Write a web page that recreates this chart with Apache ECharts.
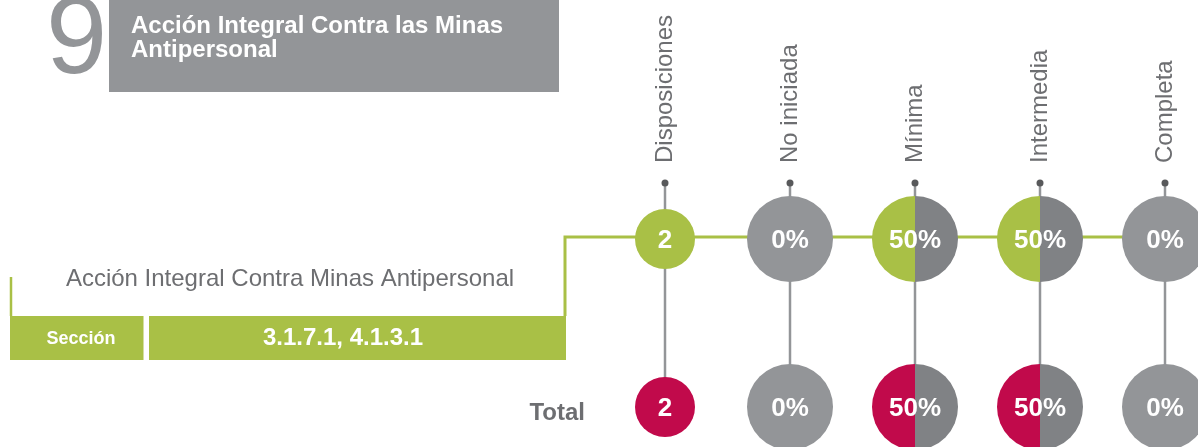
<!DOCTYPE html>
<html>
<head>
<meta charset="utf-8">
<title>Acción Integral Contra las Minas Antipersonal</title>
<script src="https://cdn.jsdelivr.net/npm/echarts@6/dist/echarts.min.js"></script>
<style>
    html, body { margin: 0; padding: 0; background: #fff; }
    #chartContainer { width: 1198px; height: 447px; }
</style>
</head>
<body>
<div id="chartContainer"></div>
<script>
/**
 * Ficha 9 - nivel de cumplimiento por disposición
 */

// datos
var categorias = ['Disposiciones', 'No iniciada', 'Mínima', 'Intermedia', 'Completa'];
var filas = ['Total', ''];            // fila 0 = Total, fila 1 = sección
var disposicionesSeccion = 2;
var disposicionesTotal = 2;
var avanceSeccion = [0, 50, 50, 0];   // % No iniciada, Mínima, Intermedia, Completa
var avanceTotal = [0, 50, 50, 0];

// textos
var fichaNumero = '9';
var fichaTitulo = 'Acción Integral Contra las Minas\nAntipersonal';
var temaTexto = 'Acción Integral Contra Minas Antipersonal';
var seccionEtiqueta = 'Sección';
var seccionValor = '3.1.7.1, 4.1.3.1';

var verde = '#a9c046';
var rojo = '#c10a4b';
var grisClaro = '#939598';
var grisOscuro = '#808285';
var grisTexto = '#6d6e71';
var fuente = '"Liberation Sans", Arial, sans-serif';

var myChart = echarts.init(document.getElementById("chartContainer"));

// cada circulo: categoria, fila, porcentaje pintado y texto
var circulos = [];
function armarFila(fila, disp, avance, color) {
    circulos.push({x: 0, y: fila, pct: 100, texto: String(disp), color: color, chico: true});
    for (var i = 0; i < avance.length; i++) {
        circulos.push({x: i + 1, y: fila, pct: avance[i], texto: avance[i] + '%', color: color, chico: false});
    }
}
armarFila(1, disposicionesSeccion, avanceSeccion, verde);
armarFila(0, disposicionesTotal, avanceTotal, rojo);

function dibujarCirculo(params, api) {
    var c = circulos[params.dataIndex];
    var p = api.coord([api.value(0), api.value(1)]);
    var r = c.chico ? 30 : 43;
    var hijos = [];
    if (c.pct >= 100) {
        hijos.push({type: 'circle', shape: {cx: p[0], cy: p[1], r: r}, style: {fill: c.color}});
    } else if (c.pct <= 0) {
        hijos.push({type: 'circle', shape: {cx: p[0], cy: p[1], r: r}, style: {fill: grisClaro}});
    } else {
        var corte = Math.PI / 2 + c.pct / 100 * Math.PI * 2;
        hijos.push({type: 'sector', shape: {cx: p[0], cy: p[1], r: r, r0: 0,
            startAngle: Math.PI / 2, endAngle: corte, clockwise: true}, style: {fill: c.color}});
        hijos.push({type: 'sector', shape: {cx: p[0], cy: p[1], r: r, r0: 0,
            startAngle: corte, endAngle: Math.PI * 2.5, clockwise: true}, style: {fill: grisOscuro}});
    }
    hijos.push({type: 'text', style: {text: c.texto, x: p[0], y: p[1] + 2, fill: '#fff',
        font: 'bold 26px ' + fuente, align: 'center', verticalAlign: 'middle'}});
    return {type: 'group', children: hijos};
}

function dibujarVarilla(params, api) {
    var arriba = api.coord([api.value(0), 1]);
    var abajo = api.coord([api.value(0), 0]);
    var yPunto = arriba[1] - 56;
    return {type: 'group', children: [
        {type: 'line', shape: {x1: arriba[0], y1: yPunto, x2: abajo[0], y2: abajo[1]},
            style: {stroke: grisClaro, lineWidth: 2.5}},
        {type: 'circle', shape: {cx: arriba[0], cy: yPunto, r: 3.5}, style: {fill: '#58595b'}}
    ]};
}

var option = {
    animation: false,
    textStyle: {fontFamily: fuente},
    grid: {left: 665, right: 33, top: 239, bottom: 40},
    xAxis: {
        type: 'category',
        position: 'top',
        data: categorias,
        boundaryGap: false,
        axisLine: {show: false},
        axisTick: {show: false},
        axisLabel: {rotate: -90, margin: 76, fontSize: 24, color: grisTexto, interval: 0}
    },
    yAxis: {
        type: 'category',
        data: filas,
        boundaryGap: false,
        axisLine: {show: false},
        axisTick: {show: false},
        axisLabel: {margin: 80, fontSize: 24, fontWeight: 'bold', color: grisTexto,
            verticalAlign: 'top', lineHeight: 12}
    },
    graphic: [
        {type: 'text', left: 46, top: -12, style: {text: fichaNumero, font: '110px ' + fuente, fill: grisClaro}},
        {type: 'rect', shape: {x: 109, y: 0, width: 450, height: 92}, style: {fill: grisClaro}},
        {type: 'text', x: 131, y: 14, style: {text: fichaTitulo, font: 'bold 24px ' + fuente,
            lineHeight: 24, fill: '#fff', verticalAlign: 'top'}},
        {type: 'text', x: 290, y: 279, style: {text: temaTexto, font: '24px ' + fuente, fill: grisTexto,
            align: 'center', verticalAlign: 'middle'}},
        {type: 'line', shape: {x1: 11, y1: 277, x2: 11, y2: 316}, style: {stroke: verde, lineWidth: 2.5}},
        {type: 'polyline', shape: {points: [[565, 316], [565, 237], [1198, 237]]},
            style: {stroke: verde, lineWidth: 3, fill: null}},
        {type: 'rect', shape: {x: 10, y: 316, width: 133.5, height: 44}, style: {fill: verde}},
        {type: 'rect', shape: {x: 149, y: 316, width: 417, height: 44}, style: {fill: verde}},
        {type: 'text', x: 81, y: 339, style: {text: seccionEtiqueta, font: 'bold 18px ' + fuente, fill: '#fff',
            align: 'center', verticalAlign: 'middle'}},
        {type: 'text', x: 343, y: 338, style: {text: seccionValor, font: 'bold 24px ' + fuente, fill: '#fff',
            align: 'center', verticalAlign: 'middle'}}
    ],
    series: [
        {
            type: 'custom',
            z: 2,
            renderItem: dibujarVarilla,
            data: categorias.map(function (n, i) { return [i, 1]; })
        },
        {
            type: 'custom',
            z: 3,
            renderItem: dibujarCirculo,
            data: circulos.map(function (c) { return [c.x, c.y]; })
        }
    ]
};
myChart.setOption(option);
</script>
</body>
</html>
